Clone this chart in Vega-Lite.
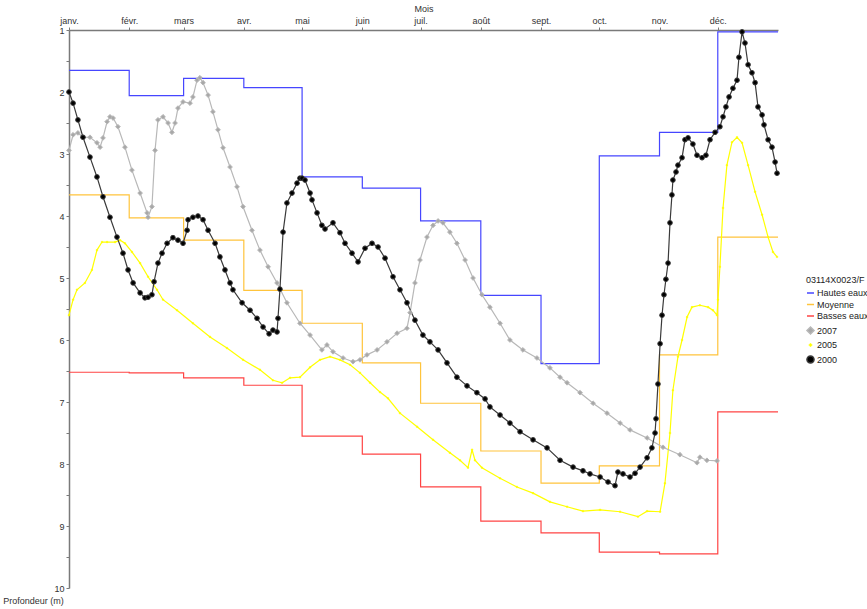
{
  "$schema": "https://vega.github.io/schema/vega-lite/v6.json",
  "width": 709,
  "height": 558,
  "autosize": {"type": "none"},
  "padding": {"left": 69, "top": 30, "right": 89, "bottom": 21},
  "config": {
    "view": {"stroke": null},
    "font": "Liberation Sans",
    "legend": {
      "orient": "none",
      "legendX": 737,
      "legendY": 246,
      "padding": 0,
      "titleFontSize": 9,
      "titleFontWeight": "normal",
      "titleColor": "#222222",
      "titlePadding": 3.5,
      "labelFontSize": 9,
      "labelColor": "#222222",
      "labelOffset": 2,
      "symbolSize": 50,
      "symbolStrokeWidth": 1.5,
      "rowPadding": 1.5
    }
  },
  "datasets": {
    "reference": [
      {"serie": "Hautes eaux", "jour": 0, "prof": 1.65},
      {"serie": "Hautes eaux", "jour": 31, "prof": 2.06},
      {"serie": "Hautes eaux", "jour": 59, "prof": 1.78},
      {"serie": "Hautes eaux", "jour": 90, "prof": 1.93},
      {"serie": "Hautes eaux", "jour": 120, "prof": 3.37},
      {"serie": "Hautes eaux", "jour": 151, "prof": 3.55},
      {"serie": "Hautes eaux", "jour": 181, "prof": 4.08},
      {"serie": "Hautes eaux", "jour": 212, "prof": 5.28},
      {"serie": "Hautes eaux", "jour": 243, "prof": 6.38},
      {"serie": "Hautes eaux", "jour": 273, "prof": 3.03},
      {"serie": "Hautes eaux", "jour": 304, "prof": 2.65},
      {"serie": "Hautes eaux", "jour": 334, "prof": 1.03},
      {"serie": "Hautes eaux", "jour": 365, "prof": 1.03},
      {"serie": "Moyenne", "jour": 0, "prof": 3.66},
      {"serie": "Moyenne", "jour": 31, "prof": 4.03},
      {"serie": "Moyenne", "jour": 59, "prof": 4.39},
      {"serie": "Moyenne", "jour": 90, "prof": 5.2},
      {"serie": "Moyenne", "jour": 120, "prof": 5.73},
      {"serie": "Moyenne", "jour": 151, "prof": 6.37},
      {"serie": "Moyenne", "jour": 181, "prof": 7.02},
      {"serie": "Moyenne", "jour": 212, "prof": 7.79},
      {"serie": "Moyenne", "jour": 243, "prof": 8.31},
      {"serie": "Moyenne", "jour": 273, "prof": 8.03},
      {"serie": "Moyenne", "jour": 304, "prof": 6.24},
      {"serie": "Moyenne", "jour": 334, "prof": 4.34},
      {"serie": "Moyenne", "jour": 365, "prof": 4.34},
      {"serie": "Basses eaux", "jour": 0, "prof": 6.52},
      {"serie": "Basses eaux", "jour": 31, "prof": 6.53},
      {"serie": "Basses eaux", "jour": 59, "prof": 6.61},
      {"serie": "Basses eaux", "jour": 90, "prof": 6.73},
      {"serie": "Basses eaux", "jour": 120, "prof": 7.55},
      {"serie": "Basses eaux", "jour": 151, "prof": 7.84},
      {"serie": "Basses eaux", "jour": 181, "prof": 8.37},
      {"serie": "Basses eaux", "jour": 212, "prof": 8.92},
      {"serie": "Basses eaux", "jour": 243, "prof": 9.11},
      {"serie": "Basses eaux", "jour": 273, "prof": 9.42},
      {"serie": "Basses eaux", "jour": 304, "prof": 9.45},
      {"serie": "Basses eaux", "jour": 334, "prof": 7.16},
      {"serie": "Basses eaux", "jour": 365, "prof": 7.16}
    ],
    "mesures": [
      {"serie": "2005", "jour": 0, "prof": 5.6},
      {"serie": "2005", "jour": 2.1, "prof": 5.35},
      {"serie": "2005", "jour": 4.1, "prof": 5.19},
      {"serie": "2005", "jour": 8.2, "prof": 5.08},
      {"serie": "2005", "jour": 11.8, "prof": 4.87},
      {"serie": "2005", "jour": 14.4, "prof": 4.55},
      {"serie": "2005", "jour": 17, "prof": 4.42},
      {"serie": "2005", "jour": 19.6, "prof": 4.42},
      {"serie": "2005", "jour": 23.7, "prof": 4.42},
      {"serie": "2005", "jour": 26.3, "prof": 4.39},
      {"serie": "2005", "jour": 28.8, "prof": 4.44},
      {"serie": "2005", "jour": 32.4, "prof": 4.58},
      {"serie": "2005", "jour": 36.6, "prof": 4.76},
      {"serie": "2005", "jour": 40.7, "prof": 4.98},
      {"serie": "2005", "jour": 45.3, "prof": 5.19},
      {"serie": "2005", "jour": 48.4, "prof": 5.35},
      {"serie": "2005", "jour": 55.6, "prof": 5.52},
      {"serie": "2005", "jour": 63.8, "prof": 5.73},
      {"serie": "2005", "jour": 72.6, "prof": 5.95},
      {"serie": "2005", "jour": 81.3, "prof": 6.13},
      {"serie": "2005", "jour": 89.6, "prof": 6.32},
      {"serie": "2005", "jour": 98.3, "prof": 6.48},
      {"serie": "2005", "jour": 105, "prof": 6.65},
      {"serie": "2005", "jour": 109.7, "prof": 6.69},
      {"serie": "2005", "jour": 113.8, "prof": 6.61},
      {"serie": "2005", "jour": 118.9, "prof": 6.6},
      {"serie": "2005", "jour": 124.1, "prof": 6.44},
      {"serie": "2005", "jour": 129.2, "prof": 6.32},
      {"serie": "2005", "jour": 134.4, "prof": 6.27},
      {"serie": "2005", "jour": 139.5, "prof": 6.32},
      {"serie": "2005", "jour": 144.7, "prof": 6.4},
      {"serie": "2005", "jour": 149.8, "prof": 6.53},
      {"serie": "2005", "jour": 155, "prof": 6.69},
      {"serie": "2005", "jour": 160.1, "prof": 6.84},
      {"serie": "2005", "jour": 164.2, "prof": 6.94},
      {"serie": "2005", "jour": 170.4, "prof": 7.18},
      {"serie": "2005", "jour": 179.2, "prof": 7.4},
      {"serie": "2005", "jour": 187.4, "prof": 7.61},
      {"serie": "2005", "jour": 196.1, "prof": 7.82},
      {"serie": "2005", "jour": 201.3, "prof": 7.94},
      {"serie": "2005", "jour": 205.4, "prof": 8.06},
      {"serie": "2005", "jour": 207.5, "prof": 7.77},
      {"serie": "2005", "jour": 209, "prof": 7.94},
      {"serie": "2005", "jour": 212.6, "prof": 8.06},
      {"serie": "2005", "jour": 221.9, "prof": 8.23},
      {"serie": "2005", "jour": 230.6, "prof": 8.37},
      {"serie": "2005", "jour": 238.9, "prof": 8.47},
      {"serie": "2005", "jour": 247.6, "prof": 8.61},
      {"serie": "2005", "jour": 256.4, "prof": 8.69},
      {"serie": "2005", "jour": 264.6, "prof": 8.76},
      {"serie": "2005", "jour": 273.4, "prof": 8.74},
      {"serie": "2005", "jour": 283.7, "prof": 8.77},
      {"serie": "2005", "jour": 292.9, "prof": 8.85},
      {"serie": "2005", "jour": 297.6, "prof": 8.76},
      {"serie": "2005", "jour": 304.3, "prof": 8.77},
      {"serie": "2005", "jour": 306.8, "prof": 8.31},
      {"serie": "2005", "jour": 309.4, "prof": 7.5},
      {"serie": "2005", "jour": 310.9, "prof": 6.81},
      {"serie": "2005", "jour": 313.5, "prof": 6.27},
      {"serie": "2005", "jour": 315.6, "prof": 6.0},
      {"serie": "2005", "jour": 318.2, "prof": 5.63},
      {"serie": "2005", "jour": 320.7, "prof": 5.47},
      {"serie": "2005", "jour": 324.8, "prof": 5.44},
      {"serie": "2005", "jour": 329, "prof": 5.47},
      {"serie": "2005", "jour": 331.5, "prof": 5.52},
      {"serie": "2005", "jour": 333.6, "prof": 5.6},
      {"serie": "2005", "jour": 334.1, "prof": 5.35},
      {"serie": "2005", "jour": 335.1, "prof": 4.82},
      {"serie": "2005", "jour": 336.7, "prof": 3.87},
      {"serie": "2005", "jour": 338.7, "prof": 3.18},
      {"serie": "2005", "jour": 341.3, "prof": 2.81},
      {"serie": "2005", "jour": 343.9, "prof": 2.73},
      {"serie": "2005", "jour": 346.5, "prof": 2.82},
      {"serie": "2005", "jour": 349.6, "prof": 3.18},
      {"serie": "2005", "jour": 353.2, "prof": 3.61},
      {"serie": "2005", "jour": 356.8, "prof": 3.98},
      {"serie": "2005", "jour": 359.9, "prof": 4.34},
      {"serie": "2005", "jour": 362.4, "prof": 4.58},
      {"serie": "2005", "jour": 364.5, "prof": 4.66},
      {"serie": "2007", "jour": 0, "prof": 2.94},
      {"serie": "2007", "jour": 2.1, "prof": 2.69},
      {"serie": "2007", "jour": 4.6, "prof": 2.66},
      {"serie": "2007", "jour": 7.2, "prof": 2.73},
      {"serie": "2007", "jour": 10.8, "prof": 2.73},
      {"serie": "2007", "jour": 14.4, "prof": 2.82},
      {"serie": "2007", "jour": 16, "prof": 2.89},
      {"serie": "2007", "jour": 17.5, "prof": 2.74},
      {"serie": "2007", "jour": 19.6, "prof": 2.48},
      {"serie": "2007", "jour": 21.1, "prof": 2.4},
      {"serie": "2007", "jour": 22.7, "prof": 2.42},
      {"serie": "2007", "jour": 25.2, "prof": 2.56},
      {"serie": "2007", "jour": 28.8, "prof": 2.89},
      {"serie": "2007", "jour": 32.4, "prof": 3.26},
      {"serie": "2007", "jour": 36.6, "prof": 3.63},
      {"serie": "2007", "jour": 40.2, "prof": 3.95},
      {"serie": "2007", "jour": 40.7, "prof": 4.02},
      {"serie": "2007", "jour": 42.7, "prof": 3.85},
      {"serie": "2007", "jour": 44.3, "prof": 2.94},
      {"serie": "2007", "jour": 45.8, "prof": 2.45},
      {"serie": "2007", "jour": 48.4, "prof": 2.4},
      {"serie": "2007", "jour": 51, "prof": 2.5},
      {"serie": "2007", "jour": 53, "prof": 2.65},
      {"serie": "2007", "jour": 54.6, "prof": 2.5},
      {"serie": "2007", "jour": 56.1, "prof": 2.26},
      {"serie": "2007", "jour": 58.7, "prof": 2.16},
      {"serie": "2007", "jour": 62.3, "prof": 2.18},
      {"serie": "2007", "jour": 63.8, "prof": 2.08},
      {"serie": "2007", "jour": 65.9, "prof": 1.81},
      {"serie": "2007", "jour": 67.4, "prof": 1.77},
      {"serie": "2007", "jour": 69, "prof": 1.85},
      {"serie": "2007", "jour": 71.6, "prof": 2.05},
      {"serie": "2007", "jour": 74.1, "prof": 2.32},
      {"serie": "2007", "jour": 76.7, "prof": 2.61},
      {"serie": "2007", "jour": 79.3, "prof": 2.9},
      {"serie": "2007", "jour": 82.9, "prof": 3.21},
      {"serie": "2007", "jour": 86.5, "prof": 3.53},
      {"serie": "2007", "jour": 89.6, "prof": 3.85},
      {"serie": "2007", "jour": 94.2, "prof": 4.23},
      {"serie": "2007", "jour": 98.3, "prof": 4.55},
      {"serie": "2007", "jour": 102.5, "prof": 4.82},
      {"serie": "2007", "jour": 107.1, "prof": 5.08},
      {"serie": "2007", "jour": 112.2, "prof": 5.4},
      {"serie": "2007", "jour": 118.9, "prof": 5.73},
      {"serie": "2007", "jour": 124.1, "prof": 5.92},
      {"serie": "2007", "jour": 130.2, "prof": 6.16},
      {"serie": "2007", "jour": 132.8, "prof": 6.08},
      {"serie": "2007", "jour": 135.9, "prof": 6.19},
      {"serie": "2007", "jour": 141.1, "prof": 6.29},
      {"serie": "2007", "jour": 146.2, "prof": 6.35},
      {"serie": "2007", "jour": 149.8, "prof": 6.32},
      {"serie": "2007", "jour": 153.4, "prof": 6.24},
      {"serie": "2007", "jour": 158.6, "prof": 6.16},
      {"serie": "2007", "jour": 163.7, "prof": 6.03},
      {"serie": "2007", "jour": 168.9, "prof": 5.89},
      {"serie": "2007", "jour": 174, "prof": 5.81},
      {"serie": "2007", "jour": 175.6, "prof": 5.56},
      {"serie": "2007", "jour": 178.1, "prof": 5.08},
      {"serie": "2007", "jour": 180.7, "prof": 4.71},
      {"serie": "2007", "jour": 184.3, "prof": 4.34},
      {"serie": "2007", "jour": 187.4, "prof": 4.15},
      {"serie": "2007", "jour": 190, "prof": 4.08},
      {"serie": "2007", "jour": 192.5, "prof": 4.11},
      {"serie": "2007", "jour": 196.1, "prof": 4.26},
      {"serie": "2007", "jour": 199.7, "prof": 4.44},
      {"serie": "2007", "jour": 203.9, "prof": 4.71},
      {"serie": "2007", "jour": 208, "prof": 5.0},
      {"serie": "2007", "jour": 212.6, "prof": 5.27},
      {"serie": "2007", "jour": 216.7, "prof": 5.47},
      {"serie": "2007", "jour": 221.9, "prof": 5.73},
      {"serie": "2007", "jour": 227, "prof": 6.0},
      {"serie": "2007", "jour": 233.7, "prof": 6.16},
      {"serie": "2007", "jour": 240.9, "prof": 6.29},
      {"serie": "2007", "jour": 247.6, "prof": 6.45},
      {"serie": "2007", "jour": 252.8, "prof": 6.6},
      {"serie": "2007", "jour": 256.4, "prof": 6.69},
      {"serie": "2007", "jour": 263.1, "prof": 6.85},
      {"serie": "2007", "jour": 269.8, "prof": 7.02},
      {"serie": "2007", "jour": 277, "prof": 7.18},
      {"serie": "2007", "jour": 283.7, "prof": 7.34},
      {"serie": "2007", "jour": 288.8, "prof": 7.45},
      {"serie": "2007", "jour": 297.6, "prof": 7.58},
      {"serie": "2007", "jour": 305.8, "prof": 7.73},
      {"serie": "2007", "jour": 314.5, "prof": 7.85},
      {"serie": "2007", "jour": 323.3, "prof": 7.98},
      {"serie": "2007", "jour": 324.8, "prof": 7.89},
      {"serie": "2007", "jour": 328.4, "prof": 7.94},
      {"serie": "2007", "jour": 333.6, "prof": 7.95},
      {"serie": "2000", "jour": 0, "prof": 2.0},
      {"serie": "2000", "jour": 2.1, "prof": 2.18},
      {"serie": "2000", "jour": 4.6, "prof": 2.45},
      {"serie": "2000", "jour": 7.2, "prof": 2.73},
      {"serie": "2000", "jour": 10.8, "prof": 3.05},
      {"serie": "2000", "jour": 14.4, "prof": 3.37},
      {"serie": "2000", "jour": 17.5, "prof": 3.69},
      {"serie": "2000", "jour": 21.1, "prof": 4.02},
      {"serie": "2000", "jour": 24.7, "prof": 4.34},
      {"serie": "2000", "jour": 27.8, "prof": 4.6},
      {"serie": "2000", "jour": 30.4, "prof": 4.87},
      {"serie": "2000", "jour": 33, "prof": 5.08},
      {"serie": "2000", "jour": 36.6, "prof": 5.24},
      {"serie": "2000", "jour": 39.1, "prof": 5.32},
      {"serie": "2000", "jour": 40.7, "prof": 5.31},
      {"serie": "2000", "jour": 42.7, "prof": 5.27},
      {"serie": "2000", "jour": 43.8, "prof": 5.06},
      {"serie": "2000", "jour": 45.8, "prof": 4.76},
      {"serie": "2000", "jour": 47.9, "prof": 4.6},
      {"serie": "2000", "jour": 50.5, "prof": 4.44},
      {"serie": "2000", "jour": 53.5, "prof": 4.35},
      {"serie": "2000", "jour": 56.1, "prof": 4.39},
      {"serie": "2000", "jour": 58.7, "prof": 4.44},
      {"serie": "2000", "jour": 60.8, "prof": 4.23},
      {"serie": "2000", "jour": 61.3, "prof": 4.06},
      {"serie": "2000", "jour": 63.8, "prof": 4.02},
      {"serie": "2000", "jour": 66.4, "prof": 4.0},
      {"serie": "2000", "jour": 69, "prof": 4.06},
      {"serie": "2000", "jour": 71.6, "prof": 4.23},
      {"serie": "2000", "jour": 75.2, "prof": 4.44},
      {"serie": "2000", "jour": 77.7, "prof": 4.66},
      {"serie": "2000", "jour": 80.3, "prof": 4.87},
      {"serie": "2000", "jour": 82.9, "prof": 5.08},
      {"serie": "2000", "jour": 84.4, "prof": 5.19},
      {"serie": "2000", "jour": 89.1, "prof": 5.4},
      {"serie": "2000", "jour": 93.2, "prof": 5.52},
      {"serie": "2000", "jour": 96.8, "prof": 5.65},
      {"serie": "2000", "jour": 99.9, "prof": 5.79},
      {"serie": "2000", "jour": 103, "prof": 5.9},
      {"serie": "2000", "jour": 105, "prof": 5.84},
      {"serie": "2000", "jour": 107.1, "prof": 5.87},
      {"serie": "2000", "jour": 107.6, "prof": 5.65},
      {"serie": "2000", "jour": 108.6, "prof": 5.18},
      {"serie": "2000", "jour": 110.2, "prof": 4.26},
      {"serie": "2000", "jour": 112.2, "prof": 3.79},
      {"serie": "2000", "jour": 114.8, "prof": 3.63},
      {"serie": "2000", "jour": 117.4, "prof": 3.47},
      {"serie": "2000", "jour": 118.9, "prof": 3.39},
      {"serie": "2000", "jour": 120, "prof": 3.39},
      {"serie": "2000", "jour": 121.5, "prof": 3.42},
      {"serie": "2000", "jour": 124.1, "prof": 3.63},
      {"serie": "2000", "jour": 125.1, "prof": 3.74},
      {"serie": "2000", "jour": 127.7, "prof": 3.95},
      {"serie": "2000", "jour": 130.2, "prof": 4.15},
      {"serie": "2000", "jour": 131.8, "prof": 4.21},
      {"serie": "2000", "jour": 135.9, "prof": 4.11},
      {"serie": "2000", "jour": 139.5, "prof": 4.27},
      {"serie": "2000", "jour": 142.1, "prof": 4.44},
      {"serie": "2000", "jour": 145.7, "prof": 4.6},
      {"serie": "2000", "jour": 148.8, "prof": 4.74},
      {"serie": "2000", "jour": 152.4, "prof": 4.52},
      {"serie": "2000", "jour": 156, "prof": 4.44},
      {"serie": "2000", "jour": 159.1, "prof": 4.5},
      {"serie": "2000", "jour": 162.7, "prof": 4.68},
      {"serie": "2000", "jour": 166.8, "prof": 4.98},
      {"serie": "2000", "jour": 170.4, "prof": 5.19},
      {"serie": "2000", "jour": 174, "prof": 5.4},
      {"serie": "2000", "jour": 178.1, "prof": 5.68},
      {"serie": "2000", "jour": 182.2, "prof": 5.92},
      {"serie": "2000", "jour": 185.8, "prof": 6.03},
      {"serie": "2000", "jour": 190, "prof": 6.16},
      {"serie": "2000", "jour": 194.6, "prof": 6.37},
      {"serie": "2000", "jour": 199.7, "prof": 6.6},
      {"serie": "2000", "jour": 204.9, "prof": 6.74},
      {"serie": "2000", "jour": 210, "prof": 6.85},
      {"serie": "2000", "jour": 214.2, "prof": 6.95},
      {"serie": "2000", "jour": 216.7, "prof": 7.08},
      {"serie": "2000", "jour": 221.9, "prof": 7.21},
      {"serie": "2000", "jour": 227, "prof": 7.34},
      {"serie": "2000", "jour": 232.2, "prof": 7.48},
      {"serie": "2000", "jour": 238.9, "prof": 7.61},
      {"serie": "2000", "jour": 246.1, "prof": 7.74},
      {"serie": "2000", "jour": 252.8, "prof": 7.94},
      {"serie": "2000", "jour": 259.5, "prof": 8.05},
      {"serie": "2000", "jour": 264.6, "prof": 8.11},
      {"serie": "2000", "jour": 268.2, "prof": 8.16},
      {"serie": "2000", "jour": 273.4, "prof": 8.21},
      {"serie": "2000", "jour": 277.5, "prof": 8.29},
      {"serie": "2000", "jour": 281.1, "prof": 8.35},
      {"serie": "2000", "jour": 282.6, "prof": 8.13},
      {"serie": "2000", "jour": 285.2, "prof": 8.16},
      {"serie": "2000", "jour": 288.8, "prof": 8.21},
      {"serie": "2000", "jour": 291.4, "prof": 8.15},
      {"serie": "2000", "jour": 294, "prof": 8.05},
      {"serie": "2000", "jour": 297.6, "prof": 7.9},
      {"serie": "2000", "jour": 300.1, "prof": 7.74},
      {"serie": "2000", "jour": 301.7, "prof": 7.5},
      {"serie": "2000", "jour": 302.2, "prof": 7.27},
      {"serie": "2000", "jour": 303.2, "prof": 6.71},
      {"serie": "2000", "jour": 304.3, "prof": 6.06},
      {"serie": "2000", "jour": 305.3, "prof": 5.6},
      {"serie": "2000", "jour": 306.3, "prof": 5.27},
      {"serie": "2000", "jour": 307.3, "prof": 5.02},
      {"serie": "2000", "jour": 308.4, "prof": 4.76},
      {"serie": "2000", "jour": 309.4, "prof": 4.11},
      {"serie": "2000", "jour": 310.4, "prof": 3.66},
      {"serie": "2000", "jour": 310.9, "prof": 3.42},
      {"serie": "2000", "jour": 312.5, "prof": 3.29},
      {"serie": "2000", "jour": 313.5, "prof": 3.18},
      {"serie": "2000", "jour": 315.6, "prof": 3.06},
      {"serie": "2000", "jour": 317.1, "prof": 2.77},
      {"serie": "2000", "jour": 318.7, "prof": 2.74},
      {"serie": "2000", "jour": 321.2, "prof": 2.84},
      {"serie": "2000", "jour": 323.3, "prof": 3.02},
      {"serie": "2000", "jour": 325.9, "prof": 3.06},
      {"serie": "2000", "jour": 327.9, "prof": 3.02},
      {"serie": "2000", "jour": 330, "prof": 2.77},
      {"serie": "2000", "jour": 332.6, "prof": 2.65},
      {"serie": "2000", "jour": 335.1, "prof": 2.56},
      {"serie": "2000", "jour": 336.7, "prof": 2.4},
      {"serie": "2000", "jour": 338.2, "prof": 2.24},
      {"serie": "2000", "jour": 339.8, "prof": 2.08},
      {"serie": "2000", "jour": 341.8, "prof": 1.94},
      {"serie": "2000", "jour": 343.9, "prof": 1.81},
      {"serie": "2000", "jour": 344.9, "prof": 1.44},
      {"serie": "2000", "jour": 346.5, "prof": 1.03},
      {"serie": "2000", "jour": 348, "prof": 1.21},
      {"serie": "2000", "jour": 349.6, "prof": 1.56},
      {"serie": "2000", "jour": 351.6, "prof": 1.69},
      {"serie": "2000", "jour": 353.2, "prof": 1.85},
      {"serie": "2000", "jour": 354.7, "prof": 2.24},
      {"serie": "2000", "jour": 356.8, "prof": 2.37},
      {"serie": "2000", "jour": 357.8, "prof": 2.53},
      {"serie": "2000", "jour": 359.9, "prof": 2.77},
      {"serie": "2000", "jour": 361.9, "prof": 2.89},
      {"serie": "2000", "jour": 363.5, "prof": 3.13},
      {"serie": "2000", "jour": 364.5, "prof": 3.31}
    ]
  },
  "encoding": {
    "x": {
      "field": "jour",
      "type": "quantitative",
      "scale": {"domain": [0, 365], "nice": false, "zero": false},
      "axis": {
        "orient": "top",
        "title": "Mois",
        "titleFontSize": 9,
        "titleFontWeight": "normal",
        "titleColor": "#333333",
        "titlePadding": 3,
        "values": [0, 31, 59, 90, 120, 151, 181, 212, 243, 273, 304, 334],
        "labelExpr": "['janv.','févr.','mars','avr.','mai','juin','juil.','août','sept.','oct.','nov.','déc.'][indexof([0,31,59,90,120,151,181,212,243,273,304,334], datum.value)]",
        "labelFontSize": 9,
        "labelColor": "#333333",
        "labelPadding": 2,
        "labelFlush": false,
        "labelOverlap": false,
        "grid": false,
        "domainColor": "#7a7a7a",
        "domainWidth": 1.5,
        "tickColor": "#7a7a7a",
        "tickSize": 3
      }
    },
    "y": {
      "field": "prof",
      "type": "quantitative",
      "scale": {"domain": [1, 10], "reverse": true, "nice": false, "zero": false},
      "axis": {
        "orient": "left",
        "title": "Profondeur (m)",
        "titleAngle": 0,
        "titleX": -36,
        "titleY": 570,
        "titleAlign": "center",
        "titleBaseline": "middle",
        "titleFontSize": 9,
        "titleFontWeight": "normal",
        "titleColor": "#333333",
        "values": [1, 1.5, 2, 2.5, 3, 3.5, 4, 4.5, 5, 5.5, 6, 6.5, 7, 7.5, 8, 8.5, 9, 9.5, 10],
        "labelExpr": "datum.value % 1 === 0 ? format(datum.value, 'd') : ''",
        "labelFontSize": 9,
        "labelColor": "#333333",
        "labelPadding": 2,
        "labelFlush": false,
        "labelOverlap": false,
        "grid": false,
        "domainColor": "#7a7a7a",
        "domainWidth": 1.5,
        "tickColor": "#7a7a7a",
        "tickSize": 3
      }
    }
  },
  "layer": [
    {
      "data": {"name": "reference"},
      "mark": {"type": "line", "interpolate": "step-after", "strokeWidth": 1.2},
      "encoding": {
        "stroke": {
          "field": "serie",
          "type": "nominal",
          "title": "03114X0023/F",
          "scale": {
            "domain": ["Hautes eaux", "Moyenne", "Basses eaux", "2007", "2005", "2000"],
            "range": ["#4646ff", "#ffc43c", "#ff4444", "#b8b8b8", "#ffff00", "#3a3a3a"]
          }
        }
      }
    },
    {
      "data": {"name": "mesures"},
      "mark": {"type": "line", "strokeWidth": 1.2},
      "encoding": {
        "stroke": {"field": "serie", "type": "nominal", "title": "03114X0023/F"}
      }
    },
    {
      "data": {"name": "mesures"},
      "mark": {"type": "point", "size": 22, "strokeWidth": 1, "opacity": 1},
      "encoding": {
        "stroke": {"field": "serie", "type": "nominal", "title": "03114X0023/F"},
        "fill": {
          "field": "serie",
          "type": "nominal",
          "title": "03114X0023/F",
          "scale": {
            "domain": ["Hautes eaux", "Moyenne", "Basses eaux", "2007", "2005", "2000"],
            "range": ["#4646ff", "#ffc43c", "#ff4444", "#a8a8a8", "#ffff00", "#000000"]
          }
        },
        "shape": {
          "field": "serie",
          "type": "nominal",
          "title": "03114X0023/F",
          "scale": {
            "domain": ["Hautes eaux", "Moyenne", "Basses eaux", "2007", "2005", "2000"],
            "range": ["stroke", "stroke", "stroke", "diamond", "M-0.5,0H0.5M0,-0.5V0.5", "circle"]
          }
        }
      }
    }
  ]
}
